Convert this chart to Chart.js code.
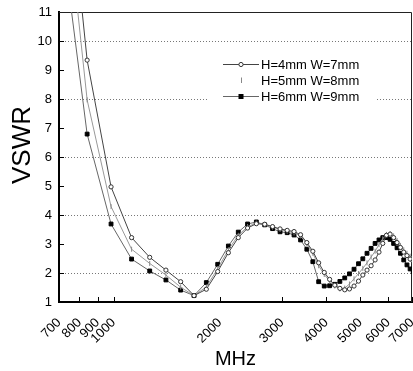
<!DOCTYPE html>
<html><head><meta charset="utf-8">
<script src="https://cdn.jsdelivr.net/npm/chart.js@4.4.1/dist/chart.umd.min.js"></script>
<style>html,body{margin:0;padding:0;background:#fff}#wrap{width:413px;height:371px;position:relative}</style>
</head><body><div id="wrap"><canvas id="c" width="413" height="371"></canvas></div>
<script>
// ---- data ----
const freqMHz = [700, 841, 983, 1124, 1265, 1406, 1548, 1689, 1830, 1971, 2113, 2254, 2395, 2536, 2678, 2819, 2960,
  3101, 3243, 3384, 3525, 3666, 3808, 3949, 4090, 4231, 4373, 4514, 4655, 4796, 4938, 5079, 5220, 5361, 5503,
  5644, 5785, 5926, 6068, 6209, 6350, 6491, 6633, 6774, 6915, 7056];
const vswrH4W7 = [18.8, 9.34, 4.97, 3.22, 2.54, 2.10, 1.70, 1.22, 1.44, 2.05, 2.70, 3.22, 3.55, 3.70, 3.68, 3.60, 3.52,
  3.47, 3.43, 3.32, 3.05, 2.75, 2.35, 2.02, 1.78, 1.58, 1.47, 1.42, 1.45, 1.55, 1.72, 1.93, 2.10, 2.25, 2.45,
  2.72, 3.02, 3.30, 3.34, 3.22, 3.05, 2.88, 2.72, 2.60, 2.48, 2.40];
const vswrH5W8 = [17.1, 7.97, 4.29, 2.82, 2.33, 1.93, 1.51, 1.22, 1.52, 2.15, 2.80, 3.30, 3.60, 3.72, 3.68, 3.58, 3.50,
  3.44, 3.38, 3.28, 3.00, 2.68, 2.25, 1.95, 1.72, 1.55, 1.45, 1.48, 1.62, 1.80, 1.98, 2.16, 2.35, 2.55, 2.75,
  2.98, 3.18, 3.33, 3.36, 3.28, 3.12, 2.95, 2.80, 2.68, 2.58, 2.52];
const vswrH6W9 = [14.4, 6.79, 3.69, 2.48, 2.07, 1.76, 1.41, 1.22, 1.67, 2.30, 2.93, 3.41, 3.69, 3.76, 3.66, 3.53, 3.42,
  3.39, 3.31, 3.14, 2.82, 2.39, 1.70, 1.55, 1.56, 1.61, 1.71, 1.83, 1.97, 2.13, 2.32, 2.49, 2.68, 2.85, 3.02,
  3.14, 3.22, 3.22, 3.16, 3.02, 2.87, 2.68, 2.45, 2.28, 2.14, 2.05];
const xTickValues = [700, 800, 900, 1000, 2000, 3000, 4000, 5000, 6000, 7000];
const yMin = 1, yMax = 11;
const gridValues = [2, 4, 6, 8, 10];
const seriesLabels = ['H=4mm W=7mm', 'H=5mm W=8mm', 'H=6mm W=9mm'];
const yTitle = 'VSWR';
const xTitle = 'MHz';

const FONT = 'Arial, "Liberation Sans", sans-serif';
const toPts = (ys) => freqMHz.map((f, i) => ({x: f, y: ys[i]}));

const styles = [
  {line: '#444', pointStyle: 'circle', radius: 2.1, fill: '#fff', pbc: '#333', rot: 0},
  {line: '#999', pointStyle: 'line', radius: 2.5, fill: '#999', pbc: '#888', rot: 90},
  {line: '#666', pointStyle: 'rect', radius: 2.7, fill: '#000', pbc: '#000', rot: 0}
];
const series = [vswrH4W7, vswrH5W8, vswrH6W9];

const framePlugin = {
  id: 'frame',
  beforeDatasetsDraw(chart) {
    const {ctx, chartArea: a, scales: {x, y}} = chart;
    ctx.save();
    ctx.strokeStyle = '#777'; ctx.lineWidth = 1; ctx.setLineDash([1, 2]);
    gridValues.forEach(v => {
      const py = Math.round(y.getPixelForValue(v)) + 0.5;
      ctx.beginPath(); ctx.moveTo(a.left, py); ctx.lineTo(a.right, py); ctx.stroke();
    });
    ctx.setLineDash([]);
    ctx.strokeStyle = '#000';
    xTickValues.forEach(v => {
      const px = Math.round(x.getPixelForValue(v)) + 0.5;
      ctx.beginPath(); ctx.moveTo(px, a.bottom); ctx.lineTo(px, a.bottom - 5); ctx.stroke();
    });
    for (let v = yMin; v <= yMax; v++) {
      const py = Math.round(y.getPixelForValue(v)) + 0.5;
      ctx.beginPath(); ctx.moveTo(a.left, py); ctx.lineTo(a.left + 5, py); ctx.stroke();
    }
    ctx.lineWidth = 1; ctx.strokeStyle = '#222';
    ctx.beginPath();
    ctx.moveTo(a.left, a.top + 0.5); ctx.lineTo(a.right - 0.5, a.top + 0.5); ctx.lineTo(a.right - 0.5, a.bottom);
    ctx.stroke();
    ctx.restore();
  },
  afterDraw(chart) {
    const {ctx} = chart;
    ctx.save();
    ctx.fillStyle = '#000'; ctx.font = '26px ' + FONT;
    ctx.textAlign = 'center'; ctx.textBaseline = 'middle';
    ctx.translate(23, 145); ctx.rotate(-Math.PI / 2);
    ctx.fillText(yTitle, 0, 0);
    ctx.setTransform(1, 0, 0, 1, 0, 0);
    ctx.fillStyle = '#fff';
    ctx.fillRect(208, 50, 169, 58);
    const rows = [64, 80, 96];
    rows.forEach((ry, i) => {
      const s = styles[i];
      if (i !== 1) {
        ctx.strokeStyle = s.line; ctx.lineWidth = 1;
        ctx.beginPath(); ctx.moveTo(223, ry + 0.5); ctx.lineTo(259, ry + 0.5); ctx.stroke();
      }
      const cx = 241;
      if (s.pointStyle === 'circle') {
        ctx.fillStyle = '#fff'; ctx.strokeStyle = s.pbc;
        ctx.beginPath(); ctx.arc(cx, ry + 0.5, s.radius, 0, Math.PI * 2); ctx.fill(); ctx.stroke();
      } else if (s.pointStyle === 'line') {
        ctx.strokeStyle = s.pbc;
        ctx.beginPath(); ctx.moveTo(cx + 0.5, ry - 2.5); ctx.lineTo(cx + 0.5, ry + 3); ctx.stroke();
      } else {
        ctx.fillStyle = '#000';
        ctx.fillRect(cx - 2.5, ry - 2, 5, 5);
      }
      ctx.fillStyle = '#000'; ctx.font = '13px ' + FONT;
      ctx.textAlign = 'left'; ctx.textBaseline = 'middle';
      ctx.fillText(seriesLabels[i], 261, ry + 1);
    });
    ctx.restore();
  }
};

new Chart(document.getElementById('c'), {
  type: 'line',
  data: {
    datasets: series.map((ys, i) => ({
      label: seriesLabels[i],
      data: toPts(ys),
      borderColor: styles[i].line,
      borderWidth: 1,
      pointStyle: styles[i].pointStyle,
      pointRadius: styles[i].radius,
      pointRotation: styles[i].rot,
      pointBackgroundColor: styles[i].fill,
      pointBorderColor: styles[i].pbc,
      pointBorderWidth: 1,
      tension: 0,
      fill: false
    }))
  },
  options: {
    responsive: false,
    animation: false,
    layout: {autoPadding: false, padding: {left: 0, top: 12, right: 1, bottom: 0}},
    plugins: {legend: {display: false}, tooltip: {enabled: false}},
    scales: {
      x: {
        type: 'logarithmic', min: 700, max: 7000,
        afterBuildTicks: (s) => { s.ticks = xTickValues.map(v => ({value: v})); },
        afterFit: (s) => { s.height = 69; s.paddingLeft = 0; s.paddingRight = 0; },
        grid: {display: false, drawTicks: false},
        border: {display: true, color: '#000', width: 2},
        ticks: {
          autoSkip: false, minRotation: 45, maxRotation: 45, padding: 13,
          color: '#000', font: {family: FONT, size: 13},
          callback: (v) => String(v)
        },
        title: {display: true, text: xTitle, color: '#000', font: {family: FONT, size: 20}, padding: {top: 0, bottom: 0}}
      },
      y: {
        type: 'linear', min: yMin, max: yMax,
        afterFit: (s) => { s.width = 59; s.paddingTop = 0; s.paddingBottom = 0; },
        grid: {display: false, drawTicks: false},
        border: {display: true, color: '#000', width: 2},
        ticks: {stepSize: 1, padding: 7, color: '#000', font: {family: FONT, size: 13}}
      }
    }
  },
  plugins: [framePlugin]
});
</script>
</body></html>
